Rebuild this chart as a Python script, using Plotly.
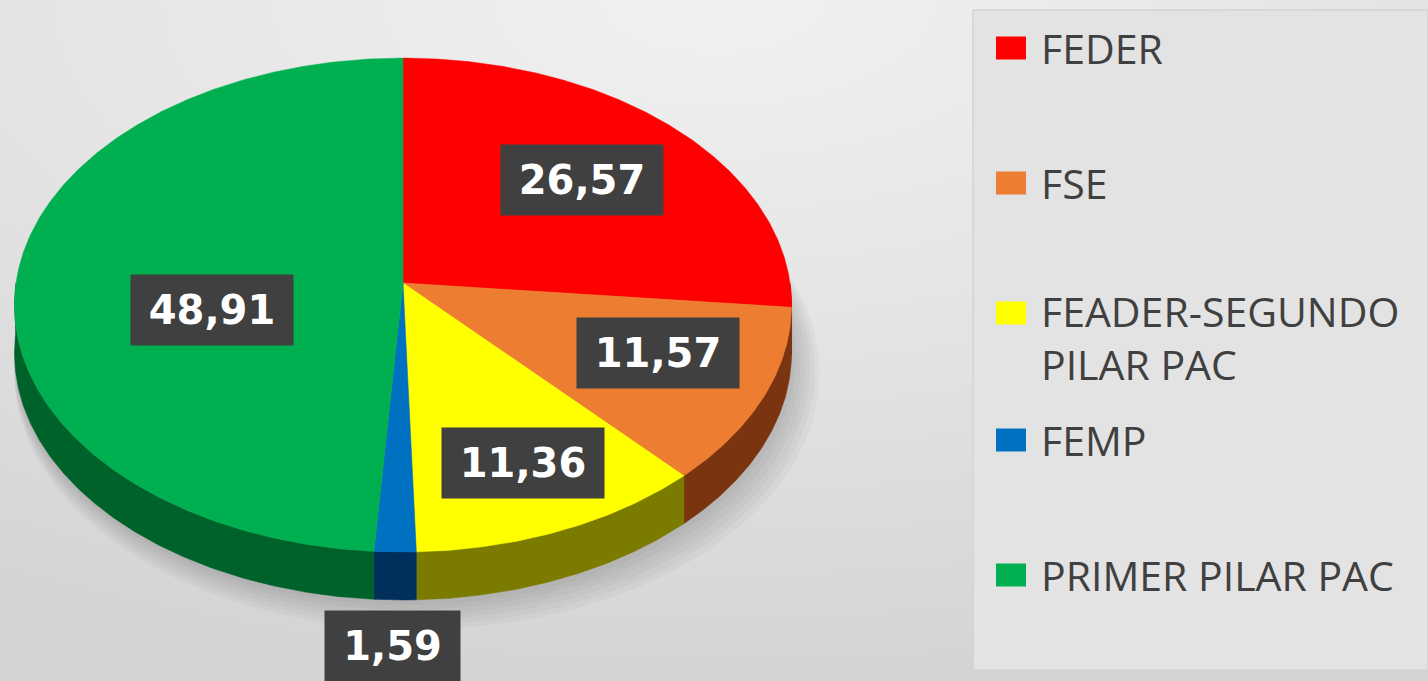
import numpy as np
import plotly.graph_objects as go

# ---------------- data ----------------
categories = ["FEDER", "FSE", "FEADER-SEGUNDO PILAR PAC", "FEMP", "PRIMER PILAR PAC"]
values = [26.57, 11.57, 11.36, 1.59, 48.91]
value_labels = ["26,57", "11,57", "11,36", "1,59", "48,91"]

# ---------------- style ----------------
top_colors = ["#ff0000", "#ed7d31", "#ffff00", "#0070c0", "#00b050"]
side_colors = ["#8a0000", "#7a3510", "#7b7b00", "#002f5c", "#00622b"]
label_r = [0.65, 0.70, 0.75, 1.31, 0.50]        # radial position of data labels
label_dtheta = [0.0, -3.0, -0.6, 0.0, -14.5]    # angular nudge (deg)
label_w = [160, 160, 160, 133, 160]

W, H = 1428, 681
CX, CY, RX = 403, 283, 387          # pixel centre of pie top and radius (px)
A, P = 0.633, 0.0893                # tilt and perspective
DEPTH = 0.124                       # pie thickness in radius units

def proj(X, Z, dy=0.0):
    s = 1.0 / (1.0 + P * Z)
    return X * s, A * Z * s - dy

def arc(a1, a2, n=None, dy=0.0):
    n = n or max(4, int(abs(a2 - a1) * 2))
    th = np.radians(np.linspace(a1, a2, n))
    return proj(np.sin(th), np.cos(th), dy)

total = sum(values)
cum = np.concatenate([[0], np.cumsum(values)]) / total * 360.0

x_range = [-CX / RX, (W - CX) / RX]
y_range = [-(H - CY) / RX, CY / RX]

fig = go.Figure()

# background with radial gradient, centred near the top middle
xw = x_range[1] - x_range[0]
yh = y_range[1] - y_range[0]
bx = [x_range[0] - xw / 2, x_range[1] + xw / 2, x_range[1] + xw / 2, x_range[0] - xw / 2, x_range[0] - xw / 2]
by = [y_range[0], y_range[0], y_range[1] + yh, y_range[1] + yh, y_range[0]]
fig.add_trace(go.Scatter(
    x=bx, y=by, mode="lines", fill="toself", line=dict(width=0),
    fillgradient=dict(type="radial",
                      colorscale=[[0, "#f1f1f1"], [0.5, "#e4e4e4"], [1, "#d4d4d4"]]),
    hoverinfo="skip", showlegend=False))

# soft shadow under the pie
th_all = np.radians(np.linspace(0, 360, 361))
for k in range(6, 0, -1):
    sc = 1.0 + 0.006 * k
    sx, sy = proj(np.sin(th_all) * sc, np.cos(th_all) * sc, DEPTH + 0.008 * k)
    fig.add_trace(go.Scatter(
        x=sx + 0.006 * k, y=sy, mode="lines", fill="toself", line=dict(width=0),
        fillcolor="rgba(70,70,70,0.045)", hoverinfo="skip", showlegend=False))

# side walls (front half only)
for i in range(len(values)):
    a1, a2 = max(cum[i], 90.0), min(cum[i + 1], 270.0)
    if a2 <= a1:
        continue
    tx, ty = arc(a1, a2)
    bx_, by_ = arc(a2, a1, dy=DEPTH)
    fig.add_trace(go.Scatter(
        x=np.concatenate([tx, bx_, tx[:1]]), y=np.concatenate([ty, by_, ty[:1]]),
        mode="lines", fill="toself", line=dict(width=0.5, color=side_colors[i]),
        fillcolor=side_colors[i], hoverinfo="skip", showlegend=False))

# top faces
cx0, cy0 = proj(0.0, 0.0)
for i in range(len(values)):
    tx, ty = arc(cum[i], cum[i + 1])
    fig.add_trace(go.Scatter(
        x=np.concatenate([[cx0], tx, [cx0]]), y=np.concatenate([[cy0], ty, [cy0]]),
        mode="lines", fill="toself", line=dict(width=0.5, color=top_colors[i]),
        fillcolor=top_colors[i], name=categories[i],
        hovertemplate=categories[i] + ": " + value_labels[i] + "<extra></extra>",
        showlegend=False))

annotations = []
# data labels
for i in range(len(values)):
    mid = np.radians((cum[i] + cum[i + 1]) / 2 + label_dtheta[i])
    lx, ly = proj(label_r[i] * np.sin(mid), label_r[i] * np.cos(mid))
    annotations.append(dict(
        x=float(lx), y=float(ly), xref="x", yref="y", text=value_labels[i],
        showarrow=False, bgcolor="#404040", width=label_w[i], height=68,
        font=dict(family="DejaVu Sans", size=40, color="white", weight="bold"),
        xanchor="center", yanchor="middle", align="center", valign="middle"))

# legend (manual, Excel-like)
legend_y_px = [48, 183, 337, 440, 575]
legend_sq_y_px = [48, 183, 313, 440, 575]
shapes = [dict(type="rect", xref="paper", yref="paper", layer="above",
               x0=973 / W, x1=1.0, y0=1 - 670 / H, y1=1 - 10 / H,
               fillcolor="#e3e3e3", line=dict(color="#d4d4d4", width=1.5))]
for i, name in enumerate(categories):
    yc = legend_sq_y_px[i]
    shapes.append(dict(type="rect", xref="paper", yref="paper", layer="above",
                       x0=996 / W, x1=1026 / W, y0=1 - (yc + 11.5) / H, y1=1 - (yc - 11.5) / H,
                       fillcolor=top_colors[i], line=dict(width=0)))
    annotations.append(dict(
        x=1039 / W, y=1 - legend_y_px[i] / H, xref="paper", yref="paper",
        text=name.replace("SEGUNDO ", "SEGUNDO<br>"), showarrow=False,
        xanchor="left", yanchor="middle", align="left",
        font=dict(family="Open Sans", size=41, color="#404040")))

fig.update_layout(
    width=W, height=H, margin=dict(l=0, r=0, t=0, b=0),
    paper_bgcolor="#dcdcdc", plot_bgcolor="rgba(0,0,0,0)",
    xaxis=dict(range=x_range, visible=False, fixedrange=True),
    yaxis=dict(range=y_range, visible=False, fixedrange=True),
    shapes=shapes, annotations=annotations, showlegend=False)

fig.write_html("out.html", config={"displayModeBar": False},
               post_script="document.body.style.margin='0';document.body.style.padding='0';"
                           "document.body.style.overflow='hidden';")
